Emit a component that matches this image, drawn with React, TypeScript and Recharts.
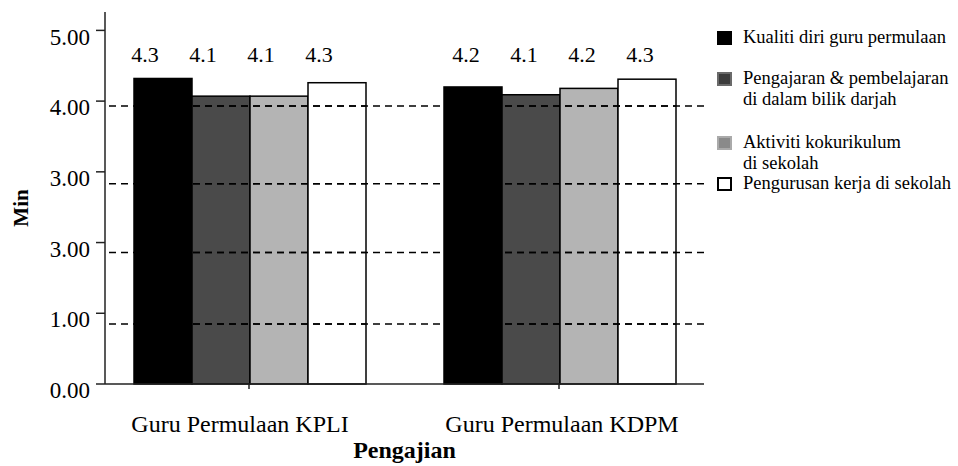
import { BarChart, Bar, XAxis, YAxis, ReferenceLine, LabelList, Legend } from "recharts";

const categories = ["Guru Permulaan KPLI", "Guru Permulaan KDPM"];
const kualiti = [4.32, 4.2];
const pengajaran = [4.07, 4.09];
const kokurikulum = [4.07, 4.18];
const pengurusan = [4.26, 4.31];

const yTickValues = [0, 1, 2, 3, 4, 5];
const yTickLabels = ["0.00", "1.00", "3.00", "3.00", "4.00", "5.00"];
// dashed guide lines sit a little off the ticks in the original
const dashedLevels = [0.85, 1.86, 2.83, 3.93];

const seriesNames = [
  "Kualiti diri guru permulaan",
  "Pengajaran & pembelajaran\ndi dalam bilik darjah",
  "Aktiviti kokurikulum\ndi sekolah",
  "Pengurusan kerja di sekolah",
];

const FONT = '"Liberation Serif", "Times New Roman", serif';
const AXIS = "#222";
const W = 958;
const H = 466;
const Y_WIDTH = 105;
const X_HEIGHT = 82;
const MARGIN = { top: 12, right: 254, bottom: 0, left: 0 };
const PLOT_LEFT = MARGIN.left + Y_WIDTH;
const PLOT_TOP = MARGIN.top;
const PLOT_BOTTOM = H - MARGIN.bottom - X_HEIGHT;
const DOMAIN: [number, number] = [0, 5.26];
const DASH = "7 5";
const DASH_OFFSET = 8;

const series = [
  { key: "kualiti", fill: "#000000", swatch: "#000000", border: "#000000" },
  { key: "pengajaran", fill: "#4a4a4a", swatch: "#3c3c3c", border: "#6a6a6a" },
  { key: "kokurikulum", fill: "#b4b4b4", swatch: "#8a8a8a", border: "#aaaaaa" },
  { key: "pengurusan", fill: "#ffffff", swatch: "#ffffff", border: "#000000" },
];

const data = categories.map((name, i) => ({
  name,
  kualiti: kualiti[i],
  pengajaran: pengajaran[i],
  kokurikulum: kokurikulum[i],
  pengurusan: pengurusan[i],
}));

// layout bits
const LABEL_BASELINE = 61.5;
const LABEL_SHIFT = [-18, -7];
const X_LABEL_SHIFT = [-9, 3];
const LEGEND_TOPS = [27, 68, 132, 173];

function YTick(props: any) {
  const { x, y, payload } = props;
  const i = yTickValues.indexOf(payload.value);
  return (
    <text x={x} y={y + 6} dy="0.355em" textAnchor="end" fontSize={23} fontFamily={FONT} fill="#000">
      {yTickLabels[i]}
    </text>
  );
}

function XTick(props: any) {
  const { x, y, payload } = props;
  const i = categories.indexOf(payload.value);
  return (
    <text x={x + (X_LABEL_SHIFT[i] || 0)} y={y + 41} textAnchor="middle" fontSize={24} fontFamily={FONT} fill="#000">
      {payload.value}
    </text>
  );
}

function MinLabel(props: any) {
  const vb = props.viewBox || { x: 0, y: 12, width: 105, height: 372 };
  const cx = vb.x + 21;
  const cy = vb.y + vb.height / 2 + 10;
  return (
    <text
      x={cx}
      y={cy}
      transform={`rotate(-90, ${cx}, ${cy})`}
      textAnchor="middle"
      dominantBaseline="central"
      fontSize={21}
      fontWeight="bold"
      fontFamily={FONT}
      fill="#000"
    >
      Min
    </text>
  );
}

function barLabel(props: any) {
  const { x, width, value, index } = props;
  return (
    <text
      x={x + width / 2 + (LABEL_SHIFT[index] || 0)}
      y={LABEL_BASELINE}
      textAnchor="middle"
      fontSize={22}
      fontFamily={FONT}
      fill="#000"
    >
      {Number(value).toFixed(1)}
    </text>
  );
}

// bar rect plus the dashed guides running across it (they sit on top of the bars
// in the original). Same linear mapping as the y axis: domain -> plot band.
function DashedBar(props: any) {
  const x = Number(props.x);
  const y = Number(props.y);
  const width = Number(props.width);
  const height = Number(props.height);
  const k = (PLOT_BOTTOM - PLOT_TOP) / (DOMAIN[1] - DOMAIN[0]);
  return (
    <g>
      <rect x={x} y={y} width={width} height={height} fill={props.fill} stroke="#000" strokeWidth={1.5} />
      {dashedLevels.map((lvl) => {
        const ly = PLOT_BOTTOM - (lvl - DOMAIN[0]) * k;
        if (ly < y) return null;
        return (
          <line
            key={lvl}
            x1={x}
            x2={x + width}
            y1={ly}
            y2={ly}
            stroke="#000"
            strokeWidth={1.5}
            strokeDasharray={DASH}
            strokeDashoffset={DASH_OFFSET + (x - PLOT_LEFT)}
          />
        );
      })}
    </g>
  );
}

function LegendBox() {
  return (
    <div style={{ position: "relative", width: W, height: H, fontFamily: FONT }}>
      {series.map((s, i) => (
        <div key={s.key} style={{ position: "absolute", left: 717, top: LEGEND_TOPS[i] }}>
          <span
            style={{
              position: "absolute",
              left: 0,
              top: 4,
              width: 15,
              height: 14,
              boxSizing: "border-box",
              background: s.swatch,
              border: `2px solid ${s.border}`,
            }}
          />
          <div
            style={{
              marginLeft: 26,
              fontSize: 18.5,
              lineHeight: "21px",
              whiteSpace: "pre",
              color: "#000",
            }}
          >
            {seriesNames[i]}
          </div>
        </div>
      ))}
    </div>
  );
}

export default function App() {
  return (
    <div style={{ position: "absolute", left: 0, top: 0, width: W, height: H, background: "#fff" }}>
      <BarChart width={W} height={H} data={data} margin={MARGIN} barCategoryGap={40} barGap={0}>
        <XAxis
          dataKey="name"
          height={X_HEIGHT}
          padding={{ left: -11, right: -10 }}
          tick={<XTick />}
          tickSize={5}
          tickLine={{ stroke: AXIS, strokeWidth: 1.5 }}
          axisLine={{ stroke: AXIS, strokeWidth: 1.5 }}
          label={{
            value: "Pengajian",
            position: "insideBottom",
            offset: 8,
            fontSize: 24,
            fontWeight: "bold",
            fontFamily: FONT,
            fill: "#000",
          }}
        />
        <XAxis
          xAxisId="top"
          dataKey="name"
          orientation="top"
          height={0}
          tick={false}
          tickLine={false}
          axisLine={{ stroke: AXIS, strokeWidth: 1.5 }}
        />
        <YAxis
          width={Y_WIDTH}
          domain={DOMAIN}
          ticks={yTickValues}
          interval={0}
          tick={<YTick />}
          tickSize={9}
          tickMargin={6}
          tickLine={{ stroke: AXIS, strokeWidth: 1.5 }}
          axisLine={{ stroke: AXIS, strokeWidth: 1.5 }}
          label={{ content: MinLabel }}
        />
        <YAxis
          yAxisId="right"
          orientation="right"
          width={0}
          domain={DOMAIN}
          tick={false}
          tickLine={false}
          axisLine={{ stroke: AXIS, strokeWidth: 1.5 }}
        />
        {dashedLevels.map((v) => (
          <ReferenceLine
            key={v}
            y={v}
            stroke="#000"
            strokeWidth={1.5}
            strokeDasharray={DASH}
            strokeDashoffset={DASH_OFFSET}
          />
        ))}
        {series.map((s) => (
          <Bar
            key={s.key}
            dataKey={s.key}
            fill={s.fill}
            shape={(p: any) => <DashedBar {...p} fill={s.fill} />}
            isAnimationActive={false}
          >
            <LabelList dataKey={s.key} content={barLabel} />
          </Bar>
        ))}
        <Legend
          layout="horizontal"
          align="center"
          verticalAlign="middle"
          content={LegendBox}
          wrapperStyle={{ left: 0, top: 0, width: W, height: H, pointerEvents: "none" }}
        />
      </BarChart>
    </div>
  );
}
